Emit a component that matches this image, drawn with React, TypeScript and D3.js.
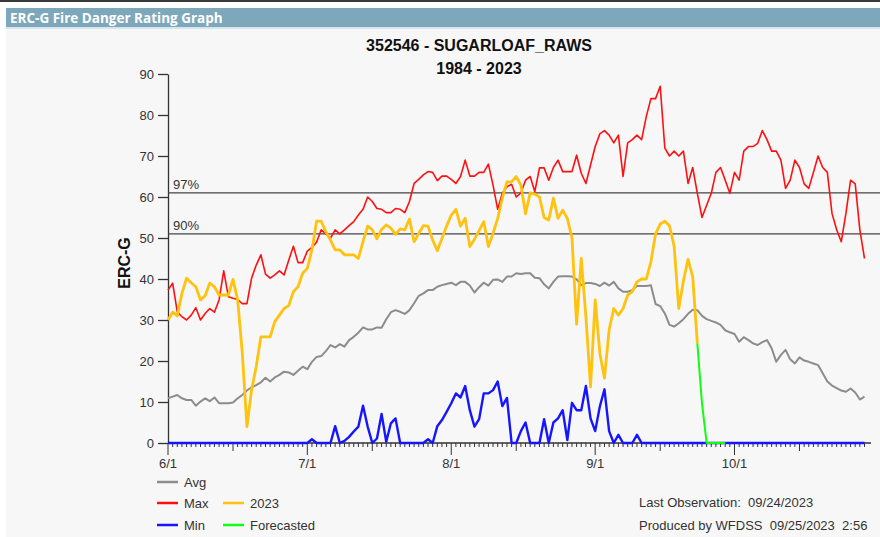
import React, { useRef, useEffect } from "react";
import { select, scaleLinear, scaleTime, line, timeDay, axisLeft } from "d3";

// daily values starting 6/1
const avgValues = [
  10.9, 11.3, 11.7, 10.9, 10.5, 10.5, 9.1, 10.1, 10.9, 10.2,
  11.1, 9.7, 9.7, 9.7, 9.9, 10.9, 11.7, 12.8, 13.6, 14.1,
  14.8, 15.9, 15, 16, 16.6, 17.4, 17.2, 16.6, 17.6, 18.6,
  18, 19.8, 21, 21.2, 22.4, 23.9, 23.3, 24.1, 23.5, 25.1,
  25.9, 26.9, 28.2, 27.7, 27.7, 28.2, 28.1, 30.2, 31.9, 32.4,
  32, 31.5, 32.4, 34.1, 35.9, 36.5, 37.3, 37.3, 38.1, 38.5,
  38.8, 39.1, 38.5, 39.3, 39.3, 38.4, 36.7, 38, 39.1, 38.4,
  39.8, 39.9, 39.3, 40.6, 40.6, 41.4, 41.2, 41.4, 41.4, 40.3,
  40.2, 38.7, 37.7, 39.3, 40.6, 40.7, 40.7, 40.6, 39.9, 38.5,
  39, 39, 38.8, 38.3, 39.1, 38.4, 39.3, 37.7, 36.9, 36.9,
  37.3, 38.3, 38.3, 38.3, 38.5, 33.9, 33.4, 31.6, 28.8, 28.4,
  29.2, 30.2, 31.5, 32.5, 32.4, 31, 30.2, 29.8, 29.4, 28.8,
  27.5, 27, 26.6, 24.7, 25.8, 25.1, 24.3, 23.9, 24.6, 25.1,
  23.1, 19.8, 21.5, 22.7, 20.4, 19.4, 20.9, 20.1, 19.8, 19.4,
  19, 17, 15, 14, 13.4, 12.8, 12.5, 13.3, 12.3, 10.6, 11.3
];

const maxValues = [
  37.3, 39, 32, 30.8, 30, 31.2, 33, 30, 31.6, 32.8,
  31.9, 34.9, 42, 35.7, 35.3, 35, 34, 34, 40.2, 43.4,
  45.9, 41.2, 40.2, 41, 42, 41, 44.6, 48, 44, 44,
  46.8, 47.7, 49, 52, 51, 50, 52, 51, 52, 53,
  54, 55.6, 57, 60, 58.9, 57.2, 57, 56.2, 56.2, 57.2,
  57, 56.2, 58.9, 63.3, 64.3, 65.4, 66.2, 66, 64, 65.1,
  65.1, 64.3, 63.3, 65, 69, 65.1, 65.1, 66, 66, 68,
  62.9, 57, 60.9, 62.5, 63.1, 60, 61, 64.1, 65, 61.3,
  67.1, 67.1, 64.1, 67.2, 69, 66.2, 66.2, 66.2, 70.2, 65.8,
  63.3, 67.8, 72.3, 75.4, 76.2, 75.1, 73.2, 75.1, 65, 73.2,
  74, 75.1, 74, 79.6, 84, 84, 87, 71.9, 70, 71.2,
  70, 71.2, 63.3, 67.2, 60.9, 55, 58, 60.9, 66, 67.2,
  64.1, 60.9, 66, 64.1, 71.2, 72.3, 72.3, 73.1, 76.2, 74,
  71.2, 71.2, 69, 62.1, 64.1, 69, 67.2, 63.2, 62.1, 66,
  70, 67.2, 66, 56, 52, 49.1, 56, 64.1, 63.2, 52, 45
];

const minValues = [
  0, 0, 0, 0, 0, 0, 0, 0, 0, 0,
  0, 0, 0, 0, 0, 0, 0, 0, 0, 0,
  0, 0, 0, 0, 0, 0, 0, 0, 0, 0,
  0, 0.9, 0, 0, 0, 0, 4.1, 0, 0.5, 1.5,
  2.8, 4, 9.1, 4, 0, 1.1, 7.1, 0.3, 4.8, 6,
  0, 0, 0, 0, 0, 0, 0.9, 0, 4.1, 5.6,
  7.6, 9.7, 12.1, 11.1, 13.9, 8, 4, 5.8, 12.1, 12.1,
  12.9, 15, 9, 11, 0, 0, 2.9, 5, 0, 0,
  0, 5.8, 0, 5, 6, 8, 0.7, 9.8, 8, 8,
  13.9, 6, 2.9, 8.9, 13.1, 2.9, 0, 2, 0, 0,
  0, 2, 0, 0, 0, 0, 0, 0, 0, 0,
  0, 0, 0, 0, 0, 0, 0, 0, 0, 0,
  0, 0, 0, 0, 0, 0, 0, 0, 0, 0,
  0, 0, 0, 0, 0, 0, 0, 0, 0, 0,
  0, 0, 0, 0, 0, 0, 0, 0, 0, 0, 0
];

const values2023 = [
  30, 31.9, 31, 36.5, 40.2, 39.1, 38.1, 34.9, 35.9, 39,
  38.1, 36.1, 36.1, 36.1, 39.9, 34.9, 21.9, 4, 12.9, 18.6,
  25.9, 25.9, 25.9, 29.6, 31.2, 32.8, 33.5, 36.9, 38.1, 41.4,
  42.6, 47.1, 54.1, 54.1, 51.5, 49.5, 47.1, 47.1, 45.9, 45.9,
  45.9, 45, 49.1, 52.9, 52, 49.8, 52.1, 53.2, 52.4, 50.9,
  52.2, 52, 54.6, 49.1, 51.1, 53, 52.9, 49.5, 46.9, 49.9,
  52.9, 55.6, 57, 52.9, 54.8, 47.9, 49.7, 51.8, 54, 47.9,
  51.1, 54.8, 59.7, 63.7, 63.7, 65, 62.9, 55.9, 61, 60.7,
  60, 55, 54.4, 59.7, 54.8, 56.8, 54.8, 50, 29, 45,
  30.8, 13.7, 34.9, 21.9, 15.8, 27.6, 32.8, 31.2, 32.8, 36.1,
  36.9, 39.3, 40, 40, 44.2, 51, 53.4, 54.1, 53, 48,
  32.8, 39.5, 44.8, 40.6, 24.3
];

// forecast starts on the last observed day
const forecastStart = 114;
const forecastValues = [24.3, 9.7, 0, 0, 0, 0, 0];

const yTicks = [0, 10, 20, 30, 40, 50, 60, 70, 80, 90];
const percentileLabels = ["97%", "90%"];
const percentileValues = [61, 51];

const legendNames = ["Avg", "Max", "2023", "Min", "Forecasted"];
const legendColors = ["#8c8c8c", "#ff1010", "#ffc20e", "#1515ff", "#10ff10"];

const font = "'Liberation Sans', Arial, sans-serif";
const startDate = new Date(2023, 5, 1);

const App = () => {
  const svgRef = useRef(null);

  useEffect(() => {
    const svg = select(svgRef.current);
    svg.selectAll("*").remove();

    const width = 880;
    const height = 537;

    svg.append("rect").attr("width", width).attr("height", height).attr("fill", "#ffffff");
    svg.append("rect").attr("x", 6).attr("y", 27).attr("width", width - 6).attr("height", height - 27).attr("fill", "#f7f7f7");
    svg.append("rect").attr("x", 0).attr("y", 0).attr("width", width).attr("height", 2).attr("fill", "#3a3a3a");

    // header bar
    svg.append("rect").attr("x", 6).attr("y", 8).attr("width", width - 6).attr("height", 19).attr("fill", "#7da7ba");
    svg.append("rect").attr("x", 6).attr("y", 27).attr("width", width - 6).attr("height", 2).attr("fill", "#d7e6ee");
    svg.append("text")
      .attr("x", 10).attr("y", 22.5)
      .attr("fill", "#ffffff")
      .style("font-family", "'Open Sans', sans-serif")
      .style("font-weight", "700")
      .style("font-size", "13.5px")
      .text("ERC-G Fire Danger Rating Graph");

    // titles
    const title = svg.append("g").style("font-family", font).style("font-weight", "bold").style("font-size", "16px").attr("fill", "#111");
    title.append("text").attr("x", 479).attr("y", 51).attr("text-anchor", "middle").text("352546 - SUGARLOAF_RAWS");
    title.append("text").attr("x", 479).attr("y", 74).attr("text-anchor", "middle").text("1984 - 2023");

    svg.append("text")
      .attr("transform", "translate(130,263) rotate(-90)")
      .attr("text-anchor", "middle")
      .style("font-family", font).style("font-weight", "bold").style("font-size", "16px")
      .attr("fill", "#111")
      .text("ERC-G");

    const xScale = scaleTime()
      .domain([startDate, timeDay.offset(startDate, 150)])
      .range([168, 864.5]);
    const yScale = scaleLinear().domain([0, 90]).range([443, 74]);
    const dayX = (i) => xScale(timeDay.offset(startDate, i));

    // y axis
    const yAxis = svg.append("g")
      .attr("transform", "translate(168,0)")
      .call(axisLeft(yScale).tickValues(yTicks).tickSize(10).tickSizeOuter(0).tickPadding(4));
    yAxis.select(".domain").attr("stroke", "#333").attr("stroke-width", 1.3);
    yAxis.selectAll(".tick line").attr("stroke", "#333").attr("stroke-width", 1.3);
    yAxis.selectAll(".tick text").style("font-family", font).style("font-size", "13px").attr("fill", "#333");

    // x axis
    const xAxis = svg.append("g");
    xAxis.append("line")
      .attr("x1", 168).attr("x2", 871)
      .attr("y1", 443).attr("y2", 443)
      .attr("stroke", "#333").attr("stroke-width", 1.3);
    const days = timeDay.range(startDate, timeDay.offset(startDate, 151));
    xAxis.selectAll("line.tick")
      .data(days)
      .enter()
      .append("line")
      .attr("class", "tick")
      .attr("x1", (d) => xScale(d)).attr("x2", (d) => xScale(d))
      .attr("y1", 443)
      .attr("y2", (d) => (d.getDate() === 1 ? 455 : d.getDate() === 15 ? 451 : 447))
      .attr("stroke", "#333").attr("stroke-width", 1);
    xAxis.selectAll("text")
      .data(days.filter((d) => d.getDate() === 1))
      .enter()
      .append("text")
      .attr("x", (d) => xScale(d))
      .attr("y", 468)
      .attr("text-anchor", "middle")
      .style("font-family", font).style("font-size", "13px")
      .attr("fill", "#333")
      .text((d) => `${d.getMonth() + 1}/${d.getDate()}`);

    // percentile lines
    percentileValues.forEach((v, i) => {
      svg.append("line")
        .attr("x1", 168).attr("x2", width)
        .attr("y1", yScale(v)).attr("y2", yScale(v))
        .attr("stroke", "#444").attr("stroke-width", 1.3);
      svg.append("text")
        .attr("x", 173).attr("y", yScale(v) - 4)
        .style("font-family", font).style("font-size", "13px")
        .attr("fill", "#333")
        .text(percentileLabels[i]);
    });

    const lineGen = line().x((d) => dayX(d[0])).y((d) => yScale(d[1]));
    const series = (vals, offset = 0) => vals.map((v, i) => [i + offset, v]);

    const drawLine = (pts, color, w) =>
      svg.append("path")
        .datum(pts)
        .attr("d", lineGen)
        .attr("fill", "none")
        .attr("stroke", color)
        .attr("stroke-width", w)
        .attr("stroke-linejoin", "round");

    drawLine(series(avgValues), legendColors[0], 2);
    drawLine(series(maxValues), legendColors[1], 1.6);
    drawLine(series(values2023), legendColors[2], 2.8);
    drawLine(series(minValues), legendColors[3], 2.4);
    drawLine(series(forecastValues, forecastStart), legendColors[4], 2);

    // legend
    const legendPos = [
      [157, 482], [157, 503], [223, 503], [157, 525], [223, 525]
    ];
    legendNames.forEach((name, i) => {
      const [lx, ly] = legendPos[i];
      svg.append("line")
        .attr("x1", lx).attr("x2", lx + 21)
        .attr("y1", ly).attr("y2", ly)
        .attr("stroke", legendColors[i]).attr("stroke-width", 2.5);
      svg.append("text")
        .attr("x", lx + 27).attr("y", ly + 4.5)
        .style("font-family", font).style("font-size", "13px")
        .attr("fill", "#333")
        .text(name);
    });

    const notes = svg.append("g").style("font-family", font).style("font-size", "13px").attr("fill", "#333");
    notes.append("text").attr("x", 639).attr("y", 507).text("Last Observation:\u00a0 09/24/2023");
    notes.append("text").attr("x", 639).attr("y", 529.5).text("Produced by WFDSS\u00a0 09/25/2023\u00a0 2:56");
  }, []);

  return (
    <svg
      ref={svgRef}
      width={880}
      height={537}
      style={{ position: "absolute", left: 0, top: 0 }}
    />
  );
};

export default App;
